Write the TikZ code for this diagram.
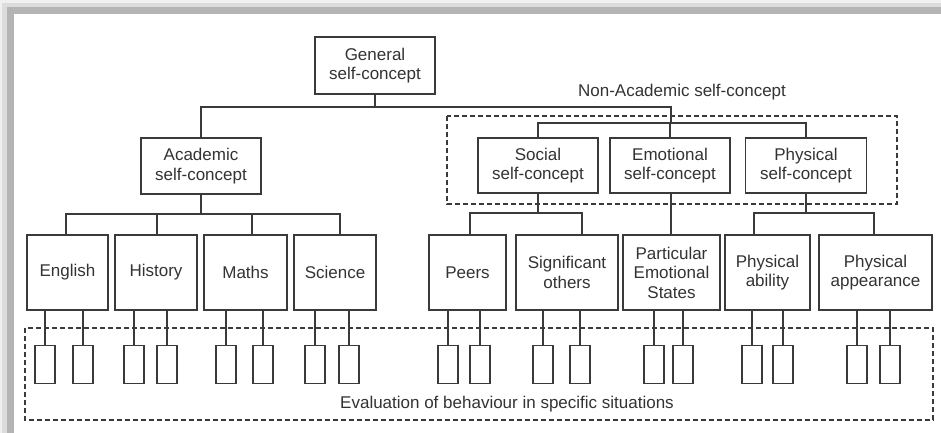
\documentclass[tikz,border=0pt]{standalone}
\usepackage{fontspec}
\setmainfont{Liberation Sans}
\definecolor{ln}{HTML}{3A3A3A}
\definecolor{txt}{HTML}{333333}
\definecolor{fa}{HTML}{F0F0F0}
\definecolor{fb}{HTML}{DCDCDC}
\definecolor{fc}{HTML}{B4B4B4}
\begin{document}
\begin{tikzpicture}[x=1pt,y=-1pt,
  every node/.style={font=\fontsize{17}{19.5}\selectfont, text=txt},
  box/.style={draw=ln, line width=1.4pt, inner sep=0pt, align=center},
  leaf/.style={draw=ln, line width=1.4pt, minimum width=20pt, minimum height=38pt, inner sep=0pt},
  conn/.style={draw=ln, line width=1.4pt},
  grp/.style={draw=ln, line width=1.2pt, dash pattern=on 5pt off 3pt}]
% background and frame
\fill[white] (0,0) rectangle (941,433);
\useasboundingbox (0,0) rectangle (941,433);
\fill[fa] (0,0) rectangle (941,3);
\fill[fb] (3,3) rectangle (941,7);
\fill[fc] (8,7) rectangle (941,14);
\fill[fa] (0,0) rectangle (2,433);
\fill[fb] (2,3) rectangle (7,433);
\fill[fc] (7,7) rectangle (14,433);

% group boxes
\draw[grp] (447,116) rectangle (897,204);
\draw[grp] (25,328) rectangle (933,420);
\node (nonacad) at (682,92) {Non-Academic self-concept};
\node (evalb) at (507,404) {Evaluation of behaviour in specific situations};

% level 1-2
\node[box, minimum width=120pt, minimum height=57pt] (gen) at (375,65.5) {General\\self-concept};
\node[box, minimum width=120pt, minimum height=56pt] (acad) at (201,166) {Academic\\self-concept};
\node[box, minimum width=120pt, minimum height=55pt] (soc) at (538,165.5) {Social\\self-concept};
\node[box, minimum width=120pt, minimum height=55pt] (emo) at (670,165.5) {Emotional\\self-concept};
\node[box, minimum width=121pt, minimum height=55pt] (phys) at (806,165.5) {Physical\\self-concept};

% level 3
\node[box, minimum width=81pt, minimum height=75pt] (eng) at (67.5,272.5) {English};
\node[box, minimum width=82pt, minimum height=75pt] (hist) at (156,272.5) {History};
\node[box, minimum width=83pt, minimum height=75pt] (math) at (245.5,272.5) {Maths};
\node[box, minimum width=82pt, minimum height=75pt] (sci) at (335,272.5) {Science};
\node[box, minimum width=77pt, minimum height=75pt] (peers) at (467.5,272.5) {Peers};
\node[box, minimum width=102pt, minimum height=75pt] (sig) at (567,272.5) {Significant\\others};
\node[box, minimum width=97pt, minimum height=75pt] (part) at (671.5,272.5) {Particular\\Emotional\\States};
\node[box, minimum width=85pt, minimum height=75pt] (pab) at (767.5,272.5) {Physical\\ability};
\node[box, minimum width=113pt, minimum height=75pt] (pap) at (875.5,272.5) {Physical\\appearance};

% leaves
\foreach \n/\x in {e1/45,e2/83,h1/134,h2/167,m1/226,m2/263,s1/315,s2/349,
  p1/448,p2/480,g1/543,g2/580,q1/654,q2/683,a1/752,a2/783,b1/857,b2/890}
  \node[leaf] (\n) at (\x,364.5) {};

% top connectors
\coordinate (topl) at (201,107);
\coordinate (topr) at (671,107);
\coordinate (nab) at (671,123);
\draw[conn] (gen.south) -- (gen.south |- topl);
\draw[conn] (acad.north) -- (topl) -- (topr) -- (nab);
\draw[conn] (soc.north) -- (soc.north |- nab) -- (phys.north |- nab) -- (phys.north);
\draw[conn] (emo.north) -- (emo.north |- nab);

% academic
\coordinate (ab) at (0,214);
\draw[conn] (acad.south) -- (acad.south |- ab);
\draw[conn] ([xshift=-1.5pt]eng.north) -- ([xshift=-1.5pt]eng.north |- ab) -- ([xshift=5pt]sci.north |- ab) -- ([xshift=5pt]sci.north);
\draw[conn] ([xshift=1pt]hist.north) -- ([xshift=1pt]hist.north |- ab);
\draw[conn] ([xshift=6.5pt]math.north) -- ([xshift=6.5pt]math.north |- ab);

% social
\coordinate (sb) at (0,213);
\draw[conn] (soc.south) -- (soc.south |- sb);
\draw[conn] ([xshift=2.5pt]peers.north) -- ([xshift=2.5pt]peers.north |- sb) -- ([xshift=15pt]sig.north |- sb) -- ([xshift=15pt]sig.north);
% emotional
\draw[conn] ([xshift=1pt]emo.south) -- ([xshift=1pt]emo.south |- part.north);
% physical
\draw[conn] (phys.south) -- (phys.south |- sb);
\draw[conn] ([xshift=-13.5pt]pab.north) -- ([xshift=-13.5pt]pab.north |- sb) -- ([xshift=-1.5pt]pap.north |- sb) -- ([xshift=-1.5pt]pap.north);

% leaf drops
\foreach \p/\a/\b in {eng/e1/e2,hist/h1/h2,math/m1/m2,sci/s1/s2,peers/p1/p2,sig/g1/g2,part/q1/q2,pab/a1/a2,pap/b1/b2}{
  \draw[conn] (\a.north) -- (\a.north |- \p.south);
  \draw[conn] (\b.north) -- (\b.north |- \p.south);
}
\end{tikzpicture}
\end{document}
